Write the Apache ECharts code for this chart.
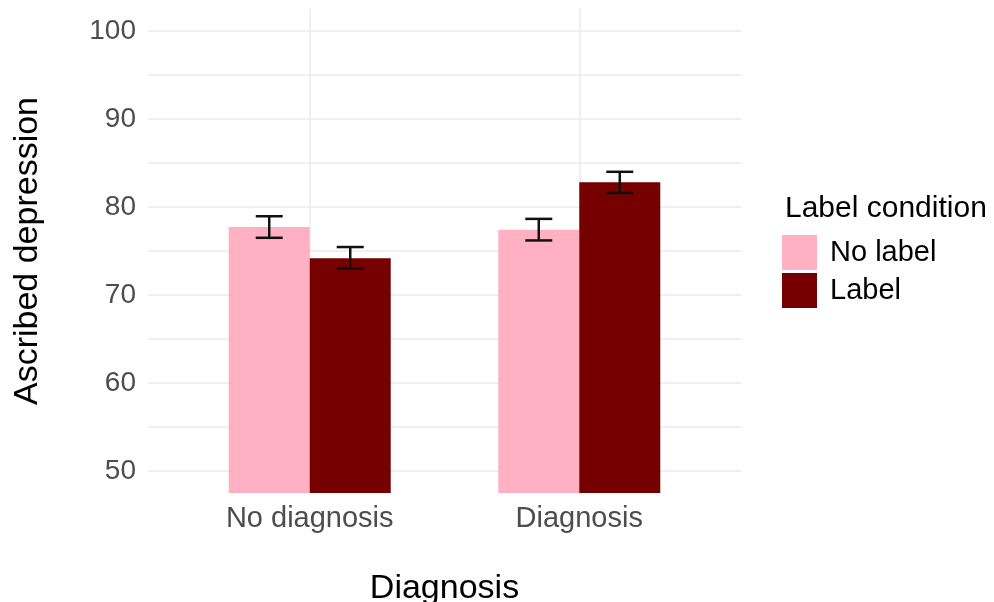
<!DOCTYPE html>
<html>
<head>
<meta charset="utf-8">
<script src="https://cdn.jsdelivr.net/npm/echarts@6/dist/echarts.min.js"></script>
<style>
  html, body { margin: 0; padding: 0; background: #fff; }
  #main { width: 994px; height: 602px; }
</style>
</head>
<body>
<div id="main"></div>
<script>
var categories = ['No diagnosis', 'Diagnosis']
var groups = ['No label', 'Label']
var noLabelMean = [77.73, 77.42]
var noLabelLow = [76.5, 76.2]
var noLabelHigh = [78.95, 78.65]
var labelMean = [74.17, 82.81]
var labelLow = [73.0, 81.6]
var labelHigh = [75.45, 84.0]
var yLabels = [50, 60, 70, 80, 90, 100]
var yGrid = [50, 55, 60, 65, 70, 75, 80, 85, 90, 95, 100]

var font = 'Liberation Sans'
var pink = '#FFB0C3'
var dark = '#760000'
var barW = 81

function pairs (means) {
    return means.map(function (v, i) { return [i + 1, v] })
}
function errData (low, high) {
    return low.map(function (v, i) { return [i + 1, v, high[i]] })
}
function errRender (offset) {
    return function (params, api) {
        var x = api.value(0)
        var lo = api.coord([x, api.value(1)])
        var hi = api.coord([x, api.value(2)])
        var cx = lo[0] + offset
        var cap = 13.5
        var style = { stroke: '#111', lineWidth: 2.5 }
        return {
            type: 'group',
            children: [
                { type: 'line', shape: { x1: cx, y1: lo[1], x2: cx, y2: hi[1] }, style: style },
                { type: 'line', shape: { x1: cx - cap, y1: lo[1], x2: cx + cap, y2: lo[1] }, style: style },
                { type: 'line', shape: { x1: cx - cap, y1: hi[1], x2: cx + cap, y2: hi[1] }, style: style }
            ]
        }
    }
}

var myChart = echarts.init(document.getElementById('main'))
var option = {
    animation: false,
    textStyle: { fontFamily: font },
    grid: { left: 148, right: 253, top: 9, bottom: 109, outerBoundsMode: 'none' },
    legend: {
        data: groups,
        orient: 'vertical',
        left: 782,
        top: 235,
        padding: 0,
        itemWidth: 35,
        itemHeight: 35,
        itemGap: 3,
        icon: 'rect',
        textStyle: { fontSize: 29, color: '#000', fontFamily: font, padding: [2, 0, 0, 8] }
    },
    graphic: [
        {
            type: 'text',
            left: 785,
            top: 194,
            style: { text: 'Label condition', font: '30px "Liberation Sans"', fill: '#000' }
        }
    ],
    xAxis: {
        type: 'value',
        min: 0.4,
        max: 2.6,
        name: 'Diagnosis',
        nameLocation: 'middle',
        nameGap: 79,
        nameTextStyle: { fontSize: 34, color: '#000', fontFamily: font },
        axisLine: { show: false },
        axisTick: { show: false, customValues: [1, 2] },
        axisLabel: {
            customValues: [1, 2],
            fontSize: 29,
            color: '#4d4d4d',
            margin: 11,
            formatter: function (v) { return categories[Math.round(v) - 1] }
        },
        splitLine: { show: true, lineStyle: { color: '#ebebeb', width: 1.5 } }
    },
    yAxis: {
        type: 'value',
        min: 47.5,
        max: 102.5,
        name: 'Ascribed depression',
        nameLocation: 'middle',
        nameGap: 103,
        nameTextStyle: { fontSize: 34, color: '#000', fontFamily: font },
        axisLine: { show: false },
        axisTick: { show: false, customValues: yGrid },
        axisLabel: { customValues: yLabels, fontSize: 28, color: '#4d4d4d', margin: 12 },
        splitLine: { show: true, lineStyle: { color: '#ebebeb', width: 1.5 } }
    },
    series: [
        {
            name: groups[0],
            type: 'bar',
            barWidth: barW,
            barGap: '0%',
            itemStyle: { color: pink },
            data: pairs(noLabelMean)
        },
        {
            name: groups[1],
            type: 'bar',
            barWidth: barW,
            barGap: '0%',
            itemStyle: { color: dark },
            data: pairs(labelMean)
        },
        {
            type: 'custom',
            renderItem: errRender(-barW / 2),
            data: errData(noLabelLow, noLabelHigh),
            z: 5
        },
        {
            type: 'custom',
            renderItem: errRender(barW / 2),
            data: errData(labelLow, labelHigh),
            z: 5
        }
    ]
}
myChart.setOption(option)
</script>
</body>
</html>
